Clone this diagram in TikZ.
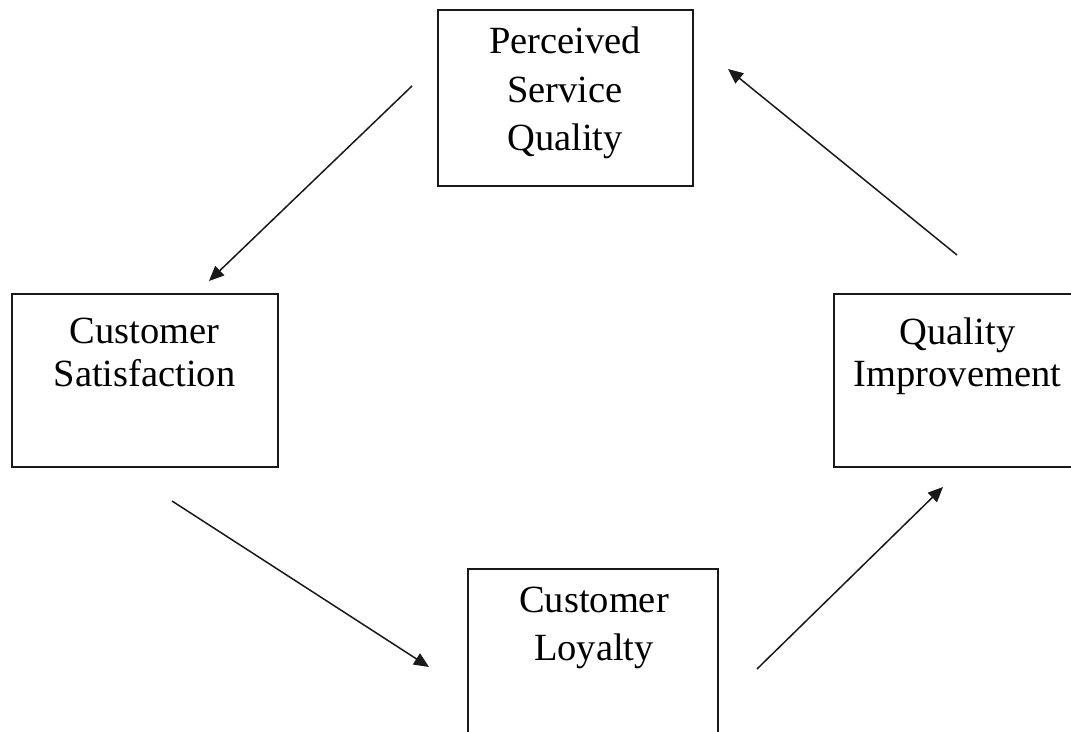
\documentclass[tikz,border=0pt]{standalone}
\usepackage{fontspec}
\setmainfont{Liberation Serif}
\usetikzlibrary{arrows.meta}
\begin{document}
\begin{tikzpicture}[x=1pt,y=-1pt,
  box/.style={draw=black!90,line width=1.5pt,rectangle,inner sep=0pt,fill=none},
  txt/.style={anchor=base,inner sep=0pt,font=\fontsize{38.5}{44}\selectfont},
  flow/.style={draw=black!90,line width=1.5pt,-{Triangle[length=15pt,width=13pt]}}]
\useasboundingbox (0,0) rectangle (1071,731);
\clip (0,0) rectangle (1071,731);
% boxes
\node[box,minimum width=255pt,minimum height=176pt] (psq) at (565.5,98) {};
\node[box,minimum width=266pt,minimum height=173pt] (cs) at (145,380.5) {};
\node[box,minimum width=248pt,minimum height=173pt] (qi) at (958,380.5) {};
\node[box,minimum width=250pt,minimum height=176pt] (cl) at (593,657) {};
% texts
\node[txt] (psq1) at (565,53) {Perceived};
\node[txt] (psq2) at (565,102) {Service};
\node[txt] (psq3) at (565,150) {Quality};
\node[txt] (cs1) at (144.5,343) {Customer};
\node[txt] (cs2) at (144.5,386) {Satisfaction};
\node[txt] (qi1) at (957.5,344) {Quality};
\node[txt] (qi2) at (957.5,386) {Improvement};
\node[txt] (cl1) at (594,612) {Customer};
\node[txt] (cl2) at (594,660) {Loyalty};
% arrow end points
\coordinate (a1s) at (412,86);  \coordinate (a1e) at (209,281);
\coordinate (a2s) at (172,501); \coordinate (a2e) at (429,667);
\coordinate (a3s) at (757,669); \coordinate (a3e) at (943,487);
\coordinate (a4s) at (957,255); \coordinate (a4e) at (728,69);
\draw[flow] (a1s) -- (a1e);
\draw[flow] (a2s) -- (a2e);
\draw[flow] (a3s) -- (a3e);
\draw[flow] (a4s) -- (a4e);
\end{tikzpicture}
\end{document}
